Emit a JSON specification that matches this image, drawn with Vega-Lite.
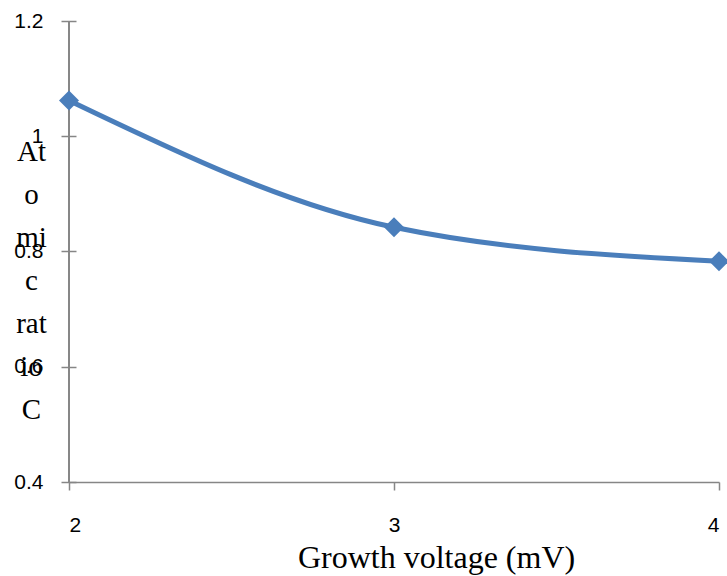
{
  "$schema": "https://vega.github.io/schema/vega-lite/v6.json",
  "width": 650,
  "height": 461,
  "autosize": "none",
  "padding": {"left": 69, "top": 21, "right": 8, "bottom": 94},
  "background": "white",
  "config": {"view": {"stroke": null}},
  "data": {"values": [
    {"voltage": 2, "ratio": 1.062},
    {"voltage": 3, "ratio": 0.842},
    {"voltage": 4, "ratio": 0.783}
  ]},
  "layer": [
    {
      "mark": {"type": "rule", "color": "#868686", "strokeWidth": 1.5},
      "encoding": {"x": {"datum": 2, "type": "quantitative"}}
    },
    {
      "mark": {"type": "line", "interpolate": "monotone", "color": "#4a7ebb", "strokeWidth": 5},
      "encoding": {
        "x": {"field": "voltage", "type": "quantitative",
          "scale": {"domain": [2, 4], "nice": false, "zero": false},
          "axis": {"values": [2, 3, 4], "format": "~g", "grid": false, "domainColor": "#868686", "domainWidth": 1.5,
            "tickColor": "#868686", "tickWidth": 1.5, "tickSize": 8,
            "labelFont": "Liberation Sans", "labelFontSize": 21, "labelColor": "#000000", "labelPadding": 24,
            "title": "Growth voltage (mV)", "titleFont": "Liberation Serif", "titleFontSize": 32,
            "titleFontWeight": "normal", "titleColor": "#000000",
            "titleX": 367, "titleY": 85, "titleAlign": "center", "titleBaseline": "alphabetic"}},
        "y": {"field": "ratio", "type": "quantitative",
          "scale": {"domain": [0.4, 1.2], "nice": false, "zero": false},
          "axis": {"values": [0.4, 0.6, 0.8, 1, 1.2], "format": "~g", "grid": false,
            "domain": false, "offset": -7,
            "tickColor": "#868686", "tickWidth": 1.5, "tickSize": 15,
            "labelFont": "Liberation Sans", "labelFontSize": 21, "labelColor": "#000000", "labelPadding": 18,
            "title": ["At", "o", "mi", "c", "rat", "io", "C"],
            "titleFont": "Liberation Serif", "titleFontSize": 29, "titleFontWeight": "normal",
            "titleColor": "#000000", "titleAngle": 0, "titleLineHeight": 43,
            "titleX": -45, "titleY": 139, "titleAlign": "center", "titleBaseline": "alphabetic"}}
      }
    },
    {
      "mark": {"type": "point", "shape": "diamond", "filled": true, "color": "#4a7ebb", "size": 400, "opacity": 1},
      "encoding": {
        "x": {"field": "voltage", "type": "quantitative"},
        "y": {"field": "ratio", "type": "quantitative"}
      }
    }
  ]
}
